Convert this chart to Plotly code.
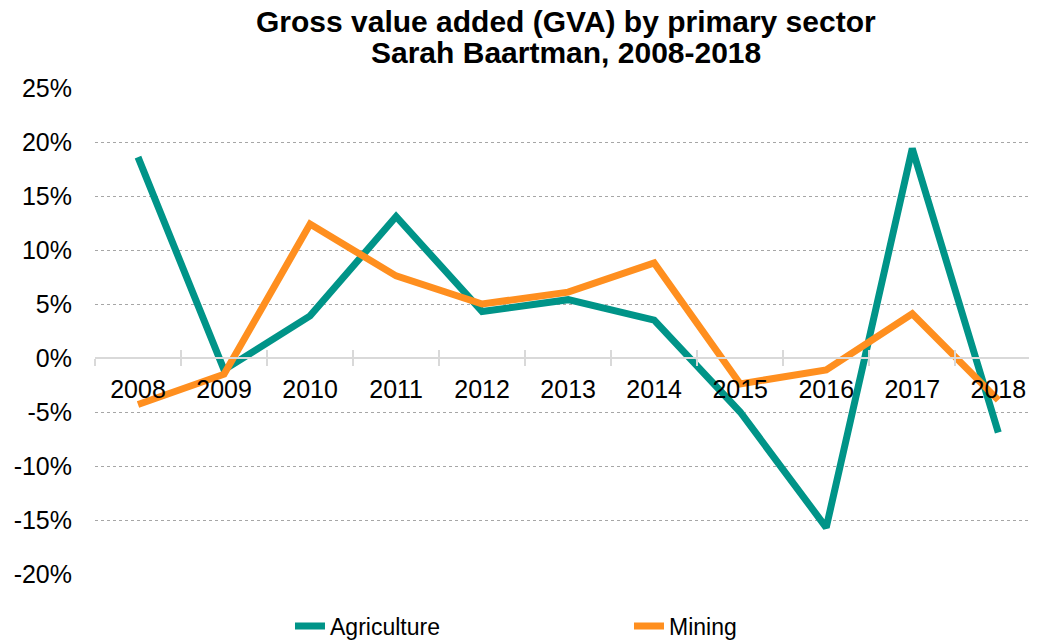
import plotly.graph_objects as go

years = ["2008", "2009", "2010", "2011", "2012", "2013", "2014", "2015", "2016", "2017", "2018"]
agriculture = [18.6, -1.1, 3.9, 13.1, 4.3, 5.4, 3.5, -5.0, -15.7, 19.4, -6.9]
mining = [-4.3, -1.5, 12.4, 7.6, 5.0, 6.1, 8.8, -2.4, -1.1, 4.1, -3.9]

y_ticks = [-20, -15, -10, -5, 0, 5, 10, 15, 20, 25]
y_labels = ["-20%", "-15%", "-10%", "-5%", "0%", "5%", "10%", "15%", "20%", "25%"]

title_lines = ["Gross value added (GVA) by primary sector", "Sarah Baartman, 2008-2018"]

FONT = "Liberation Sans, Arial, sans-serif"
y_min, y_max = -20, 25

fig = go.Figure()
fig.add_trace(go.Scatter(x=years, y=agriculture, name="Agriculture", mode="lines",
                         line=dict(color="#009488", width=7)))
fig.add_trace(go.Scatter(x=years, y=mining, name="Mining", mode="lines",
                         line=dict(color="#FF8F1F", width=7)))
# invisible trace so the second x axis (upward ticks) gets drawn
fig.add_trace(go.Scatter(x=years, y=[None] * len(years), xaxis="x2", showlegend=False,
                         hoverinfo="skip"))

zero_pos = (0 - y_min) / (y_max - y_min)
x_range = [-0.5, 10.45]

# title as two annotations so the line spacing can match
for txt, ypos in zip(title_lines, [1.137, 1.074]):
    fig.add_annotation(text=f"<b>{txt}</b>", x=0.5, xref="paper", y=ypos, yref="paper",
                       xanchor="center", yanchor="middle", showarrow=False,
                       font=dict(size=30, family=FONT, color="black"))

fig.update_layout(
    width=1029, height=633,
    margin=dict(l=87, r=0, t=80, b=67, autoexpand=False),
    paper_bgcolor="white", plot_bgcolor="white",
    font=dict(family=FONT, color="black"),
    xaxis=dict(
        type="category", range=x_range,
        anchor="free", position=zero_pos,
        showline=True, linecolor="#d9d9d9", linewidth=2,
        ticks="outside", ticklen=7, tickcolor="#d9d9d9", tickwidth=2,
        tickson="boundaries", showgrid=False, zeroline=False,
        tickfont=dict(size=25, family=FONT), ticklabelstandoff=9,
    ),
    xaxis2=dict(
        type="category", range=x_range, overlaying="x",
        anchor="free", position=zero_pos, side="bottom",
        showline=False, ticks="inside", ticklen=8, tickcolor="#d9d9d9", tickwidth=2,
        tickson="boundaries", showgrid=False, zeroline=False, showticklabels=False,
    ),
    yaxis=dict(
        range=[y_min, y_max], tickvals=y_ticks, ticktext=y_labels,
        showgrid=True, gridcolor="#a6a6a6", griddash="dot", gridwidth=1,
        zeroline=False, showline=False, ticks="",
        tickfont=dict(size=25, family=FONT), ticklabelstandoff=22,
    ),
    legend=dict(
        orientation="h", x=0.207, xanchor="left", y=-0.107, yanchor="middle",
        font=dict(size=23, family=FONT),
        entrywidth=294, entrywidthmode="pixels",
    ),
    showlegend=True,
)

fig.write_html("out.html")
